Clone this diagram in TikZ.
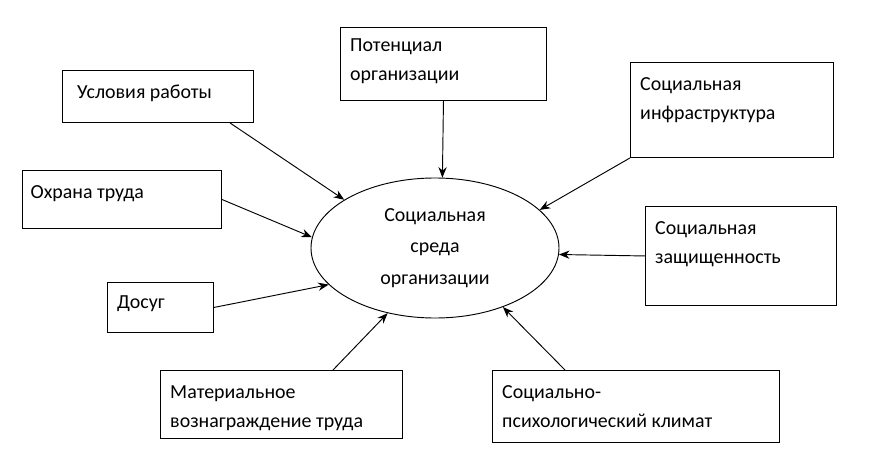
\documentclass[tikz,border=0pt]{standalone}
\usepackage{fontspec}
\setmainfont{Carlito}
\usetikzlibrary{arrows.meta,shapes.geometric}
\begin{document}
\begin{tikzpicture}[x=0.03cm,y=-0.03cm,
  box/.style={draw,line width=0.8pt,anchor=north west,inner sep=0pt},
  txt/.style={anchor=north west,align=left,inner sep=0pt,font=\fontsize{17}{25}\selectfont},
  arr/.style={-{Stealth[length=9pt,width=7pt]},line width=0.8pt}]
\useasboundingbox[fill=white] (0,0) rectangle (890,476);
\node[box,minimum width=5.73cm,minimum height=1.56cm,label={[txt,xshift=0.45cm,yshift=-0.45cm]north west:Условия работы}] (a) at (62,70) {};
\node[box,minimum width=6.18cm,minimum height=2.19cm,label={[txt,xshift=0.3cm,yshift=-0.35cm]north west:Потенциал\\организации}] (b) at (340,27) {};
\node[box,minimum width=6.09cm,minimum height=2.85cm,label={[txt,xshift=0.3cm,yshift=-0.45cm]north west:Социальная\\инфраструктура}] (c) at (630,62) {};
\node[box,minimum width=5.97cm,minimum height=1.74cm,label={[txt,xshift=0.25cm,yshift=-0.45cm]north west:Охрана труда}] (d) at (22,170) {};
\node[box,minimum width=5.73cm,minimum height=2.97cm,label={[txt,xshift=0.3cm,yshift=-0.45cm]north west:Социальная\\защищенность}] (f) at (645,206) {};
\node[box,minimum width=3.18cm,minimum height=1.5cm,label={[txt,xshift=0.3cm,yshift=-0.4cm]north west:Досуг}] (g) at (107,282) {};
\node[box,minimum width=7.26cm,minimum height=2.04cm,label={[txt,xshift=0.3cm,yshift=-0.45cm]north west:Материальное\\вознаграждение труда}] (h) at (160,370) {};
\node[box,minimum width=8.61cm,minimum height=2.16cm,label={[txt,xshift=0.3cm,yshift=-0.45cm]north west:Социально-\\психологический климат}] (i) at (492,370) {};
\node[draw,ellipse,line width=0.8pt,minimum width=7.44cm,minimum height=4.2cm,inner sep=0pt,align=center,font=\fontsize{17}{27}\selectfont] (e) at (435,248) {Социальная\\среда\\организации};
\draw[arr] ([xshift=5.04cm]a.south west) -- (e.152.5);
\draw[arr] (b.south) -- (e.84);
\draw[arr] (c.south west) -- (e.20.6);
\draw[arr] (d.east) -- (e.175);
\draw[arr] (f.west) -- (e.-3.6);
\draw[arr] (g.east) -- (e.-161);
\draw[arr] ([xshift=5.19cm]h.north west) -- (e.-126.6);
\draw[arr] ([xshift=2.19cm]i.north west) -- (e.-41.7);
\end{tikzpicture}
\end{document}
